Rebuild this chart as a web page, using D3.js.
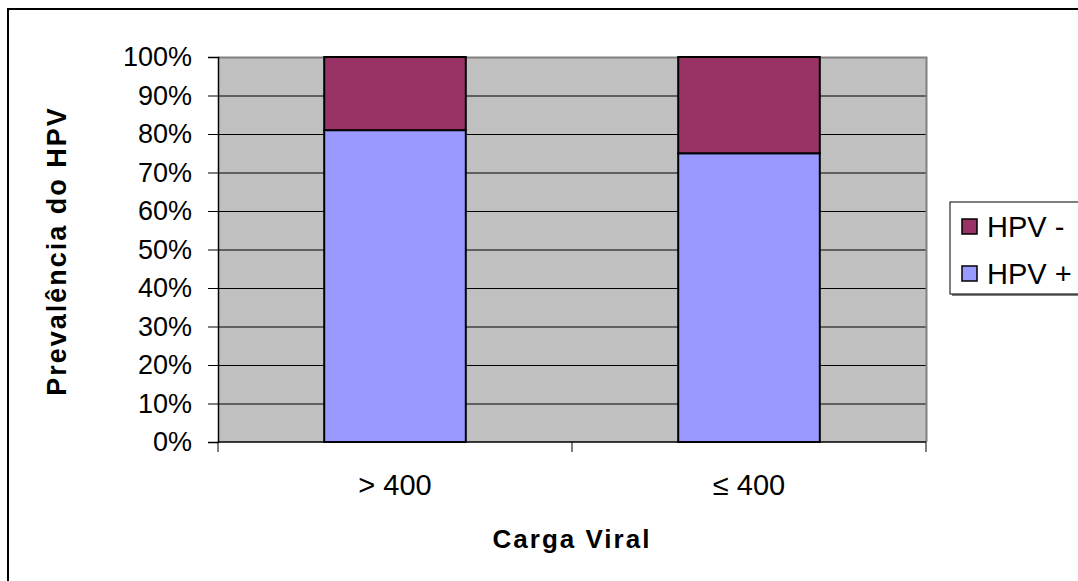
<!DOCTYPE html>
<html>
<head>
<meta charset="utf-8">
<script src="https://cdn.jsdelivr.net/npm/d3@7"></script>
<style>
  body { margin: 0; background: #fff; }
  text { font-family: Arial, "Liberation Sans", sans-serif; fill: #000; }
</style>
</head>
<body>
<svg id="chart" width="1078" height="581"></svg>
<script>
// Data
const categories = ["> 400", "≤ 400"];
const seriesNames = ["HPV +", "HPV -"];
const hpvPos = [81, 75];
const hpvNeg = [19, 25];
const yTicks = [0, 10, 20, 30, 40, 50, 60, 70, 80, 90, 100];

const colors = { "HPV +": "#9999FF", "HPV -": "#993366" };

const width = 1078, height = 581;
const plot = { left: 218, top: 57, right: 926, bottom: 442 };

const svg = d3.select("#chart");

// outer chart border (only top/left visible)
svg.append("rect")
  .attr("x", 8).attr("y", 9)
  .attr("width", width + 10).attr("height", height + 10)
  .attr("fill", "#fff")
  .attr("stroke", "#000")
  .attr("stroke-width", 2);

const x = d3.scaleBand()
  .domain(categories)
  .range([plot.left, plot.right])
  .paddingInner(0.6)
  .paddingOuter(0.3);

const y = d3.scaleLinear()
  .domain([0, 100])
  .range([plot.bottom, plot.top]);

// plot background
svg.append("rect")
  .attr("x", plot.left).attr("y", plot.top)
  .attr("width", plot.right - plot.left)
  .attr("height", plot.bottom - plot.top)
  .attr("fill", "#C0C0C0");

// gridlines
svg.append("g")
  .selectAll("line")
  .data(yTicks.slice(1))
  .join("line")
  .attr("x1", plot.left).attr("x2", plot.right)
  .attr("y1", d => y(d) + 0.5).attr("y2", d => y(d) + 0.5)
  .attr("stroke", "#000")
  .attr("stroke-width", 1);

// plot border right/top in gray
svg.append("path")
  .attr("d", `M${plot.left},${plot.top + 0.5}H${plot.right + 0.5}V${plot.bottom}`)
  .attr("fill", "none")
  .attr("stroke", "#808080")
  .attr("stroke-width", 2);

// stacked bars
const rows = categories.map((c, i) => ({ cat: c, "HPV +": hpvPos[i], "HPV -": hpvNeg[i] }));
const stacked = d3.stack().keys(seriesNames)(rows);

svg.append("g")
  .selectAll("g")
  .data(stacked)
  .join("g")
  .attr("fill", d => colors[d.key])
  .selectAll("rect")
  .data(d => d)
  .join("rect")
  .attr("x", d => x(d.data.cat))
  .attr("y", d => y(d[1]))
  .attr("width", x.bandwidth())
  .attr("height", d => y(d[0]) - y(d[1]))
  .attr("stroke", "#000")
  .attr("stroke-width", 2);

// y axis
const yAxis = d3.axisLeft(y)
  .tickValues(yTicks)
  .tickFormat(d => d + "%")
  .tickSize(10)
  .tickPadding(16);

const yG = svg.append("g")
  .attr("transform", `translate(${plot.left},0)`)
  .call(yAxis);
yG.select(".domain").attr("stroke", "#000").attr("stroke-width", 1.5);
yG.selectAll(".tick line").attr("stroke", "#000");
yG.selectAll("text")
  .attr("font-size", 27)
  .attr("font-family", "Arial, 'Liberation Sans', sans-serif")
  .attr("fill", "#000");

// x axis (ticks at category boundaries)
const xG = svg.append("g")
  .attr("transform", `translate(0,${plot.bottom})`);
xG.append("line")
  .attr("x1", plot.left).attr("x2", plot.right)
  .attr("stroke", "#000").attr("stroke-width", 1.5);
const bounds = [plot.left, (x(categories[0]) + x.bandwidth() + x(categories[1])) / 2, plot.right];
xG.selectAll(".xtick")
  .data(bounds)
  .join("line")
  .attr("class", "xtick")
  .attr("x1", d => d).attr("x2", d => d)
  .attr("y1", 0).attr("y2", 10)
  .attr("stroke", "#000");
xG.selectAll(".xlabel")
  .data(categories)
  .join("text")
  .attr("class", "xlabel")
  .attr("x", d => x(d) + x.bandwidth() / 2)
  .attr("y", 53)
  .attr("text-anchor", "middle")
  .attr("font-size", 29)
  .text(d => d);

// axis titles
svg.append("text")
  .attr("transform", `translate(66,251) rotate(-90)`)
  .attr("text-anchor", "middle")
  .attr("font-size", 27)
  .attr("font-weight", "bold")
  .attr("letter-spacing", 2)
  .text("Prevalência do HPV");

svg.append("text")
  .attr("x", (plot.left + plot.right) / 2)
  .attr("y", 548)
  .attr("text-anchor", "middle")
  .attr("font-size", 26)
  .attr("font-weight", "bold")
  .attr("letter-spacing", 2)
  .text("Carga Viral");

// legend
const legend = svg.append("g").attr("transform", "translate(950,202)");
legend.append("rect")
  .attr("x", 2).attr("y", 2)
  .attr("width", 200).attr("height", 92)
  .attr("fill", "#808080");
legend.append("rect")
  .attr("width", 200).attr("height", 92)
  .attr("fill", "#fff")
  .attr("stroke", "#000")
  .attr("stroke-width", 1);

const legendItems = seriesNames.slice().reverse();
const li = legend.selectAll(".item")
  .data(legendItems)
  .join("g")
  .attr("class", "item")
  .attr("transform", (d, i) => `translate(12,${25 + i * 47})`);
li.append("rect")
  .attr("x", 0).attr("y", -8)
  .attr("width", 15).attr("height", 15)
  .attr("fill", d => colors[d])
  .attr("stroke", "#000")
  .attr("stroke-width", 1.5);
li.append("text")
  .attr("x", 25)
  .attr("y", 10)
  .attr("font-size", 29)
  .text(d => d);
</script>
</body>
</html>
